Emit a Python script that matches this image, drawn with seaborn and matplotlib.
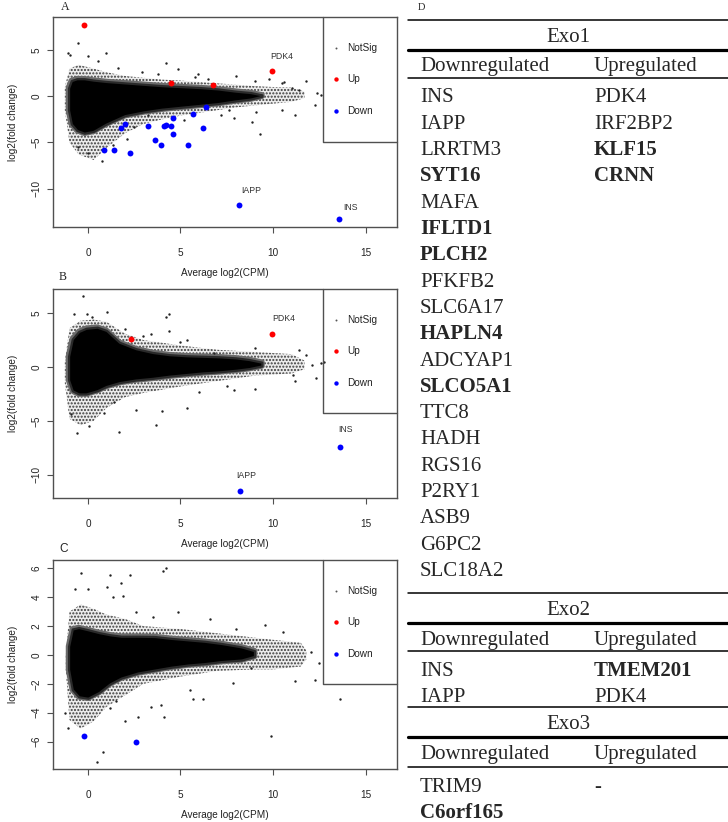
import matplotlib
matplotlib.use("Agg")
import matplotlib.pyplot as plt
import seaborn as sns

sns.set_theme(style="white")
plt.rcParams["font.family"] = ["Liberation Sans", "DejaVu Sans"]
plt.rcParams["hatch.linewidth"] = 1.0

# ---------------- Panel A (Exo1) ----------------
a_up_x = [-0.23, 4.46, 6.74, 9.93]
a_up_y = [7.66, 1.44, 1.22, 2.77]
a_down_x = [0.88, 1.40, 1.76, 2.00, 2.27, 3.22, 3.63, 3.97, 4.10, 4.24, 4.51, 4.57, 4.62, 5.38, 5.65, 6.22, 6.40, 8.15, 13.56]
a_down_y = [-5.86, -5.79, -3.42, -2.95, -6.19, -3.27, -4.75, -5.29, -3.17, -3.06, -3.24, -2.30, -4.06, -5.32, -1.91, -3.42, -1.19, -11.80, -13.27]
a_lab_names = ["PDK4", "IAPP", "INS"]
a_lab_x = [10.47, 8.80, 14.17]
a_lab_y = [4.33, -10.18, -12.09]
a_core_x = [-1.05, -0.9, -0.6, -0.2, 0.3, 1.0, 2.0, 3.0, 4.0, 5.0, 6.0, 7.0, 8.0, 8.8, 9.4]
a_core_hi = [0.9, 1.7, 1.9, 1.9, 1.75, 1.6, 1.45, 1.3, 1.15, 1.05, 0.95, 0.8, 0.55, 0.4, 0.15]
a_core_lo = [-1.5, -3.0, -3.7, -4.0, -3.8, -3.0, -2.1, -1.7, -1.4, -1.2, -1.0, -0.8, -0.5, -0.3, 0.0]
a_fr_x = [-1.25, -1.0, -0.5, 0.3, 1.0, 2.0, 3.0, 4.0, 5.0, 6.0, 7.0, 8.0, 9.0, 10.0, 11.0, 11.7]
a_fr_hi = [1.0, 3.0, 3.4, 3.0, 2.6, 2.2, 2.0, 1.8, 1.7, 1.55, 1.4, 1.25, 1.1, 1.0, 0.95, 0.5]
a_fr_lo = [-1.5, -5.0, -6.3, -6.9, -5.6, -4.0, -3.0, -2.5, -2.1, -1.8, -1.5, -1.2, -1.0, -0.8, -0.6, -0.2]
a_out_x = [-0.52, -0.97, 0.02, 1.00, 0.56, -1.06, 4.22, 4.88, 5.95, 8.00, 9.00, 9.80, 10.50, 10.60, 11.00, 11.40, 11.80,
           12.40, 12.60, 12.25, 11.17, 10.50, 9.10, 9.30, 8.85, 7.90, 7.60, 3.25, 2.50, 0.74, 0.00, -0.54, 1.35, 2.90, 6.50,
           1.60, 3.80, 5.20, 7.20, 2.10, 5.80]
a_out_y = [5.73, 4.50, 4.40, 4.70, 3.87, 4.64, 3.62, 3.00, 2.45, 2.20, 1.70, 1.83, 1.40, 1.58, 0.85, 0.70, 1.60,
           0.30, 0.14, -0.94, -2.00, -1.50, -1.65, -4.10, -2.76, -2.30, -1.50, -2.00, -3.30, -7.06, -6.10, -5.45, -5.30, 2.60, 1.90,
           3.10, 2.40, -2.60, -2.00, -4.60, 2.10]

# ---------------- Panel B (Exo2) ----------------
b_up_x = [2.35, 9.96]
b_up_y = [2.57, 3.03]
b_down_x = [8.20, 13.60]
b_down_y = [-11.49, -7.40]
b_lab_names = ["PDK4", "IAPP", "INS"]
b_lab_x = [10.56, 8.56, 13.94]
b_lab_y = [4.50, -10.09, -5.76]
b_core_x = [-1.05, -0.85, -0.5, -0.1, 0.5, 1.0, 1.7, 2.6, 3.5, 4.4, 5.3, 6.2, 7.1, 8.0, 8.7, 9.4]
b_core_hi = [1.0, 2.6, 3.3, 3.6, 3.7, 3.4, 2.3, 1.7, 1.35, 1.15, 1.05, 1.0, 0.95, 0.85, 0.7, 0.45]
b_core_lo = [-1.2, -2.2, -2.5, -2.5, -2.2, -1.8, -1.45, -1.2, -1.05, -0.85, -0.7, -0.55, -0.45, -0.3, -0.15, 0.1]
b_fr_x = [-1.25, -1.0, -0.4, 0.3, 1.0, 2.0, 3.0, 5.0, 7.0, 9.0, 10.0, 11.0, 11.7]
b_fr_hi = [0.5, 3.6, 4.3, 4.4, 4.2, 3.1, 2.5, 2.0, 1.6, 1.4, 1.3, 1.2, 0.6]
b_fr_lo = [-1.5, -4.8, -5.4, -5.0, -3.8, -2.8, -2.4, -1.8, -1.3, -0.8, -0.7, -0.6, -0.2]
b_out_x = [-0.25, -0.76, -0.07, 0.20, 1.05, 4.38, 4.20, 3.40, 4.40, 5.35, 6.80, 9.00, 11.40, 11.80, 12.10, 12.75,
           12.30, 11.20, 11.10, 9.00, 7.90, 5.35, 4.00, 3.66, 1.68, -0.60, 0.05, -0.90, 0.86, 2.60, 12.60,
           2.00, 3.00, 6.00, 7.50, 1.40, 5.00]
b_out_y = [6.57, 4.90, 4.90, 4.60, 5.10, 4.90, 4.60, 3.10, 3.30, 2.50, 1.30, 1.75, 1.57, 1.10, 0.20, 0.50,
           -1.05, -1.26, -0.75, -2.00, -2.10, -3.80, -4.10, -5.37, -6.00, -6.15, -5.50, -4.40, -4.30, -4.00, 0.40,
           3.50, 2.90, -2.30, -1.80, -3.20, 2.30]

# ---------------- Panel C (Exo3) ----------------
c_up_x = []
c_up_y = []
c_down_x = [-0.20, 2.60]
c_down_y = [-5.63, -6.00]
c_core_x = [-1.05, -0.85, -0.5, 0.0, 0.6, 1.2, 1.8, 2.7, 3.6, 4.5, 5.4, 6.3, 7.2, 8.3, 9.0]
c_core_hi = [0.6, 1.8, 1.9, 1.75, 1.55, 1.4, 1.3, 1.3, 1.28, 1.15, 1.05, 0.95, 0.8, 0.56, 0.3]
c_core_lo = [-1.0, -2.4, -2.9, -3.0, -2.6, -2.0, -1.6, -1.25, -1.05, -0.85, -0.7, -0.6, -0.46, -0.35, -0.1]
c_fr_x = [-1.2, -1.0, -0.4, 0.3, 1.0, 2.0, 3.0, 5.0, 7.0, 9.0, 10.0, 11.5, 11.8]
c_fr_hi = [0.0, 3.0, 3.5, 3.2, 2.8, 2.5, 2.0, 1.8, 1.5, 1.2, 1.05, 0.85, 0.3]
c_fr_lo = [-1.0, -4.5, -5.1, -4.6, -3.6, -2.8, -2.0, -1.5, -1.1, -1.0, -1.0, -0.8, -0.3]
c_out_x = [-0.38, 1.19, 2.27, 4.24, 4.06, -0.70, 0.02, 1.04, 1.80, 1.37, 1.90, 4.87, 6.58, 9.55, 10.54, 12.07,
           12.46, 12.25, 11.17, 13.60, 6.22, 5.68, 9.90, 0.47, 0.83, -1.06, 2.00, 2.70, 4.10, 3.97, 3.43, 1.19,
           -1.22, 7.84, 8.83, 2.60, 3.50, 5.50, 8.00, 1.50]
c_out_y = [5.66, 5.54, 5.54, 6.00, 5.80, 4.57, 4.60, 4.73, 4.97, 4.04, 4.10, 3.00, 2.50, 2.08, 1.62, 0.23,
           -0.58, -1.73, -1.80, -3.07, -3.07, -3.07, -5.59, -7.40, -6.74, -5.08, -4.60, -4.27, -4.30, -3.46, -3.58, -3.70,
           -4.04, -1.96, -0.92, 3.00, 2.60, -2.40, 1.80, -3.20]

# ---------------- Table D ----------------
exo1_down = ["INS", "IAPP", "LRRTM3", "SYT16", "MAFA", "IFLTD1", "PLCH2", "PFKFB2", "SLC6A17", "HAPLN4",
             "ADCYAP1", "SLCO5A1", "TTC8", "HADH", "RGS16", "P2RY1", "ASB9", "G6PC2", "SLC18A2"]
exo1_up = ["PDK4", "IRF2BP2", "KLF15", "CRNN"]
exo2_down = ["INS", "IAPP"]
exo2_up = ["TMEM201", "PDK4"]
exo3_down = ["TRIM9", "C6orf165"]
exo3_up = ["-"]
bold_genes = ["SYT16", "IFLTD1", "PLCH2", "HAPLN4", "SLCO5A1", "KLF15", "CRNN", "TMEM201", "C6orf165"]
section_titles = ["Exo1", "Exo2", "Exo3"]
col_headers = ["Downregulated", "Upregulated"]
legend_labels = ["NotSig", "Up", "Down"]

W, H = 728, 822
fig = plt.figure(figsize=(W / 100, H / 100), dpi=100)
fig.patch.set_facecolor("white")

AX_L, AX_R = 53, 397
SPINE = "#505050"


def px_axes(top, bottom):
    return fig.add_axes([AX_L / W, 1 - bottom / H, (AX_R - AX_L) / W, (bottom - top) / H])


def draw_ma(ax, core_x, core_hi, core_lo, fr_x, fr_hi, fr_lo, out_x, out_y,
            up_x, up_y, down_x, down_y, lab_names, lab_x, lab_y, ylim, yticks):
    ax.set_xlim(-1.89, 16.70)
    ax.set_ylim(*ylim)
    # sparse halo of non-significant genes
    ax.fill_between(fr_x, fr_lo, fr_hi, facecolor="#ececec", edgecolor="#3a3a3a",
                    hatch=".....", linewidth=0, zorder=1)
    # dense core of non-significant genes (soft edge)
    ax.fill_between(core_x, core_lo, core_hi, facecolor="none", edgecolor="#6a6a6a",
                    linewidth=4.0, zorder=2)
    ax.fill_between(core_x, core_lo, core_hi, facecolor="black", edgecolor="#2a2a2a",
                    linewidth=1.6, zorder=2)
    sns.scatterplot(x=out_x, y=out_y, ax=ax, color="#222222", s=3, linewidth=0, zorder=3)
    if up_x:
        sns.scatterplot(x=up_x, y=up_y, ax=ax, color="#ff0000", s=18, linewidth=0, zorder=4)
    if down_x:
        sns.scatterplot(x=down_x, y=down_y, ax=ax, color="#0000ff", s=18, linewidth=0, zorder=4)
    for n, x, y in zip(lab_names, lab_x, lab_y):
        ax.text(x, y, n, fontsize=6.3, color="#333333", ha="center", va="center", zorder=5)
    ax.set_xticks([0, 5, 10, 15])
    ax.set_yticks(yticks)
    ax.tick_params(axis="both", which="both", bottom=True, left=True, direction="out",
                   length=4, width=0.8, color=SPINE, labelsize=7.2, labelcolor="#222222")
    ax.tick_params(axis="x", pad=11)
    ax.tick_params(axis="y", pad=4)
    for lab in ax.get_yticklabels():
        lab.set_rotation(90)
        lab.set_va("center")
    for sp in ax.spines.values():
        sp.set_color(SPINE)
        sp.set_linewidth(1.0)
    ax.set_xlabel("Average log2(CPM)", fontsize=7.2, color="#222222", labelpad=7)
    ax.set_ylabel("log2(fold change)", fontsize=7.2, color="#222222", labelpad=10)
    # legend box (top-right, as in R's legend)
    lx = (323 - AX_L) / (AX_R - AX_L)
    lb = 1 - 125 / 210
    ax.plot([lx, lx, 1.0], [1.0, lb, lb], transform=ax.transAxes, color=SPINE, lw=1.0,
            clip_on=False, zorder=6)
    mx = (336 - AX_L) / (AX_R - AX_L)
    tx = (347 - AX_L) / (AX_R - AX_L)
    ys = [1 - 31 / 210, 1 - 62 / 210, 1 - 94 / 210]
    cols = ["#555555", "#ff0000", "#0000ff"]
    sizes = [2, 10, 10]
    for lab, yy, c, s in zip(legend_labels, ys, cols, sizes):
        ax.scatter([mx], [yy], transform=ax.transAxes, s=s, color=c, linewidths=0, zorder=6)
        ax.text(tx, yy, lab, transform=ax.transAxes, fontsize=7.2, color="#222222",
                ha="left", va="center", zorder=6)


axA = px_axes(17, 227)
draw_ma(axA, a_core_x, a_core_hi, a_core_lo, a_fr_x, a_fr_hi, a_fr_lo, a_out_x, a_out_y,
        a_up_x, a_up_y, a_down_x, a_down_y, a_lab_names, a_lab_x, a_lab_y,
        (-14.15, 8.58), [-10, -5, 0, 5])
axB = px_axes(289, 498)
draw_ma(axB, b_core_x, b_core_hi, b_core_lo, b_fr_x, b_fr_hi, b_fr_lo, b_out_x, b_out_y,
        b_up_x, b_up_y, b_down_x, b_down_y, b_lab_names, b_lab_x, b_lab_y,
        (-12.15, 7.24), [-10, -5, 0, 5])
axC = px_axes(560, 769)
draw_ma(axC, c_core_x, c_core_hi, c_core_lo, c_fr_x, c_fr_hi, c_fr_lo, c_out_x, c_out_y,
        c_up_x, c_up_y, c_down_x, c_down_y, [], [], [],
        (-7.9, 6.58), [-6, -4, -2, 0, 2, 4, 6])

# overlay axes in pixel space for panel letters and the table
ov = fig.add_axes([0, 0, 1, 1], zorder=-1)
ov.set_xlim(0, W)
ov.set_ylim(H, 0)
ov.axis("off")
ov.patch.set_alpha(0)

ov.text(65, 7, "A", family=["Liberation Serif"], fontsize=8.6, ha="center", va="center")
ov.text(63, 277, "B", family=["Liberation Serif"], fontsize=8.6, ha="center", va="center")
ov.text(64, 549, "C", fontsize=8.6, ha="center", va="center")
ov.text(421, 7, "D", family=["Liberation Serif"], fontsize=7.5, ha="center", va="center")

X0, X1 = 408, 728
COL1, COL2 = 420, 594
TFS = 15
THIN, THICK = 1.1, 2.3
STEP = 26.3
serif = ["Liberation Serif", "DejaVu Serif"]


def put(x, y, s, ha="left"):
    w = "bold" if s in bold_genes else "normal"
    ov.text(x, y + 6.5, s, family=serif, fontsize=TFS, fontweight=w, ha=ha, va="baseline")


sections = [(section_titles[0], 20, exo1_down, exo1_up, 78),
            (section_titles[1], 593, exo2_down, exo2_up, 651),
            (section_titles[2], 707, exo3_down, exo3_up, 767)]
for title, top, down, up, thin_y in sections:
    ov.plot([X0, X1], [top, top], color="black", lw=THIN)
    put((X0 + X1) / 2, top + 15, title, ha="center")
    ov.plot([X0, X1], [top + 30, top + 30], color="black", lw=THICK)
    put(COL1, top + 45, col_headers[0])
    put(COL2, top + 45, col_headers[1])
    ov.plot([X0, X1], [thin_y, thin_y], color="black", lw=THIN)
    first = thin_y + 18
    for i, g in enumerate(down):
        put(COL1, first + i * STEP, g)
    for i, g in enumerate(up):
        put(COL2, first + i * STEP, g)

fig.savefig("out.png", dpi=100, facecolor="white")
